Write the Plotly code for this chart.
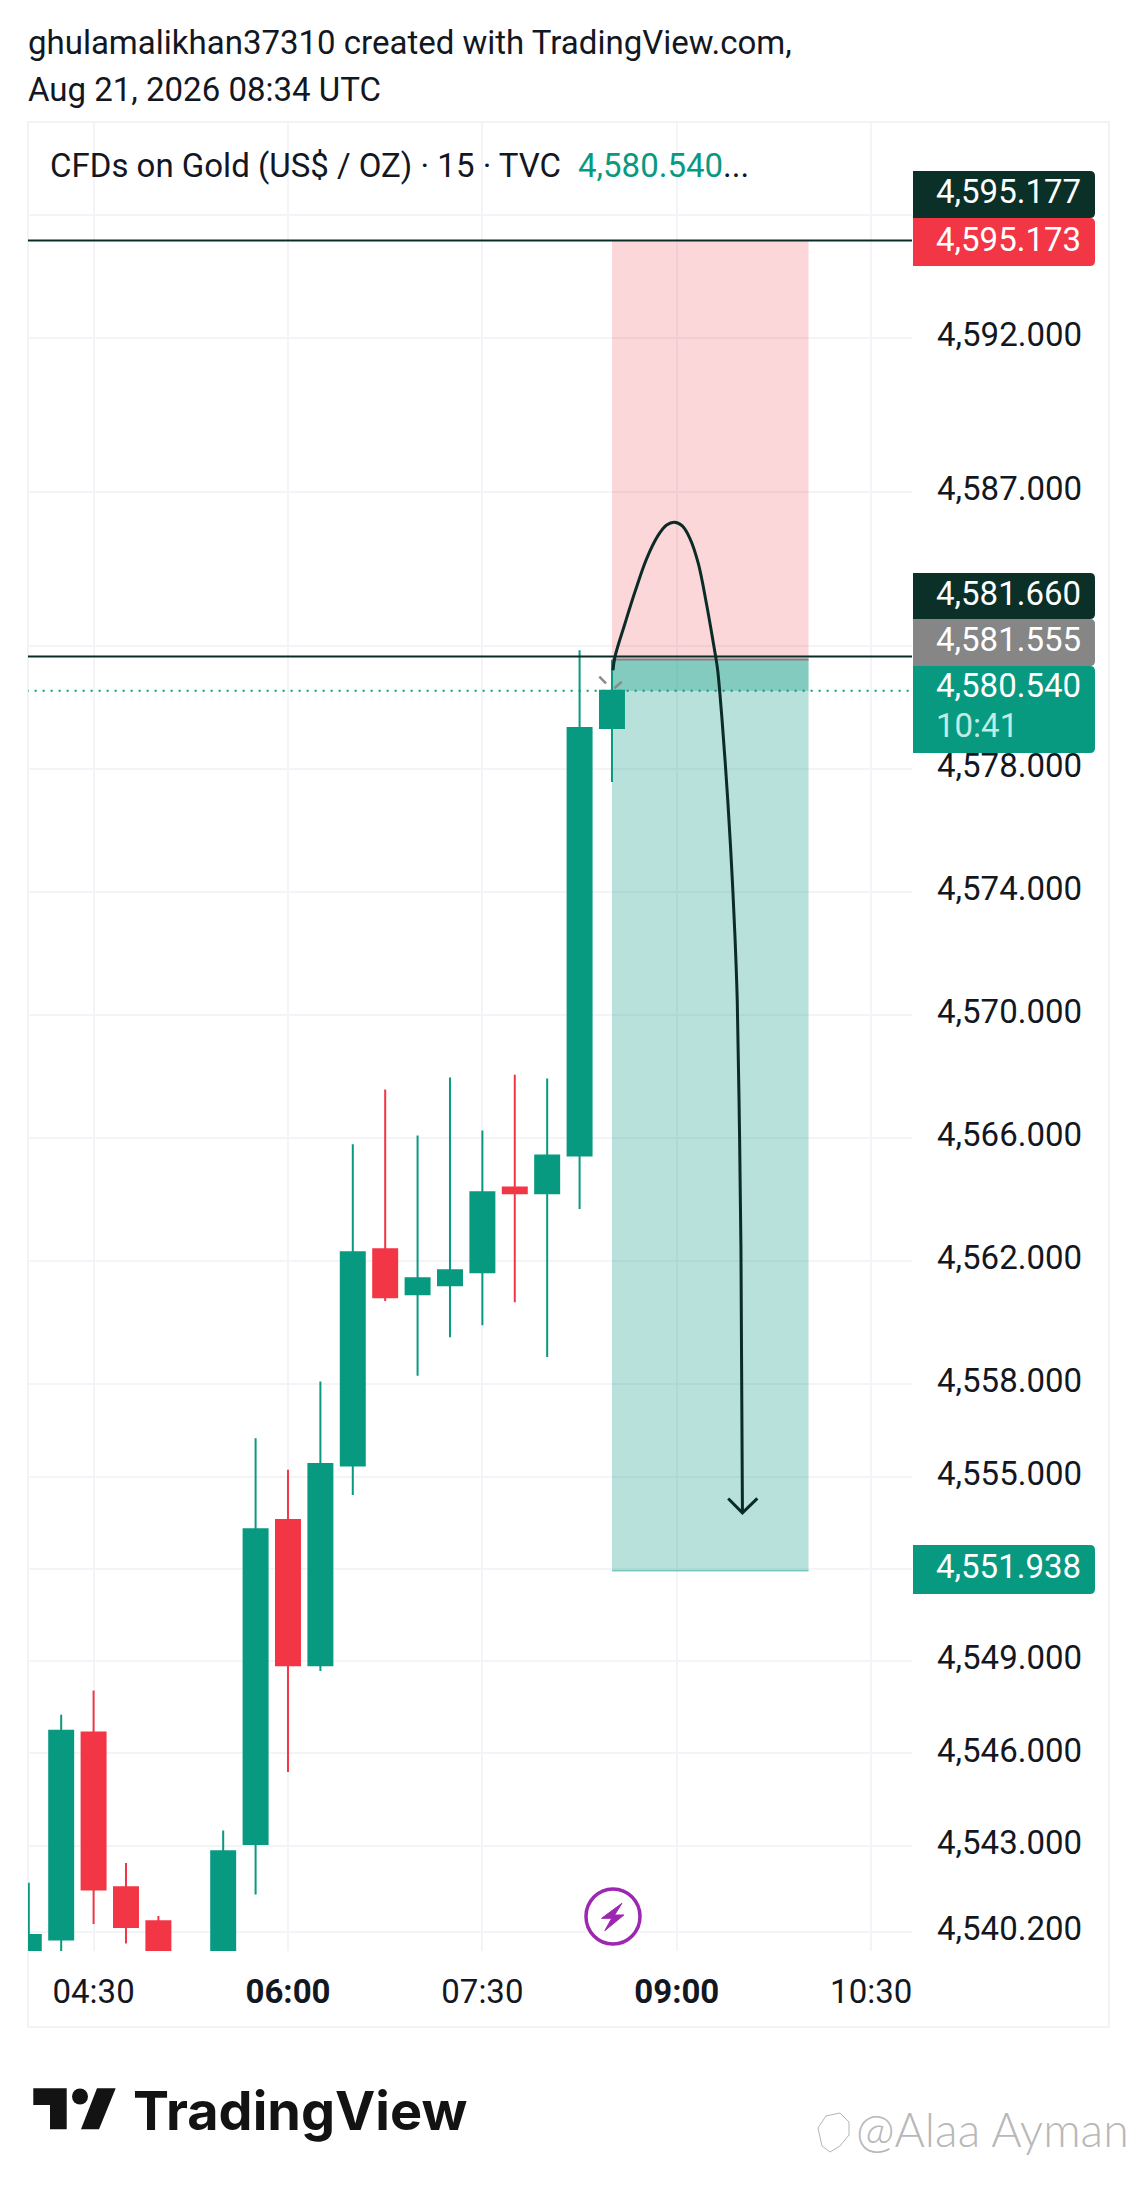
import pandas as pd
import plotly.graph_objects as go

# ---------- data ----------
# 15-minute candles on 2026-08-21 (the 05:15 candle lies fully below the visible range, so it is left out)
candle_times = ["04:00", "04:15", "04:30", "04:45", "05:00", "05:30", "05:45", "06:00", "06:15", "06:30",
                "06:45", "07:00", "07:15", "07:30", "07:45", "08:00", "08:15", "08:30"]
candle_open = [4539.0, 4539.95, 4546.68, 4541.65, 4540.55, 4539.0, 4543.06, 4553.59, 4548.87, 4555.36,
               4562.39, 4560.93, 4561.22, 4561.64, 4564.40, 4564.21, 4565.44, 4579.33]
candle_high = [4541.80, 4547.26, 4548.05, 4542.44, 4540.72, 4543.50, 4556.25, 4555.22, 4558.09, 4565.80,
               4567.58, 4566.09, 4567.97, 4566.25, 4568.06, 4567.94, 4581.86, 4581.55]
candle_low = [4539.0, 4539.0, 4540.46, 4539.82, 4539.0, 4539.0, 4541.42, 4545.40, 4548.68, 4554.40,
              4560.71, 4558.28, 4559.53, 4559.92, 4560.67, 4558.89, 4563.70, 4577.58]
candle_close = [4540.10, 4546.74, 4541.58, 4540.36, 4539.2, 4542.82, 4553.29, 4548.87, 4555.41, 4562.29,
                4560.83, 4561.45, 4561.71, 4564.24, 4564.21, 4565.44, 4579.33, 4580.54]

price_ticks = [4596, 4592, 4587, 4582, 4578, 4574, 4570, 4566, 4562, 4558, 4555, 4552, 4549, 4546, 4543, 4540.2]
price_labels = ["", "4,592.000", "4,587.000", "", "4,578.000", "4,574.000", "4,570.000", "4,566.000",
                "4,562.000", "4,558.000", "4,555.000", "", "4,549.000", "4,546.000", "4,543.000", "4,540.200"]
time_ticks = ["04:30", "06:00", "07:30", "09:00", "10:30"]
time_labels = ["04:30", "<b>06:00</b>", "07:30", "<b>09:00</b>", "10:30"]

stop_price = 4595.173
entry_price = 4581.555
target_price = 4551.938
last_price = 4580.540
line_levels = [4595.177, 4581.660]
position_start, position_end = "08:30", "10:01"

# hand-drawn curve: minutes after 06:00 and price
curve_minutes = [150.46, 151.39, 156.02, 160.65, 166.06, 171.44, 175.32, 178.85, 182.55, 186.11, 189.96,
                 193.85, 196.16, 198.01, 198.94, 200.9, 203.6, 205.4, 206.9, 208.0, 208.9, 209.7, 210.4]
curve_prices = [4581.21, 4581.65, 4582.73, 4583.76, 4584.84, 4585.60, 4585.93, 4586.02, 4585.90, 4585.49,
                4584.68, 4583.33, 4582.41, 4581.65, 4581.21, 4579.65, 4576.99, 4574.81, 4572.63, 4570.46,
                4566.85, 4562.49, 4553.82]
arrow_minutes = [203.8, 210.4, 217.3]
arrow_prices = [4554.29, 4553.82, 4554.29]

tags = [
    ("4,595.177", 171, 218, "#0B3028"),
    ("4,595.173", 218, 266, "#F23645"),
    ("4,581.660", 573, 619, "#0B3028"),
    ("4,581.555", 619, 666, "#868686"),
    ("4,580.540", 666, 753, "#089981"),
    ("4,551.938", 1545, 1594, "#089981"),
]

# ---------- page geometry ----------
W, H = 1137, 2193
L, R, T, B = 28, 912, 122, 1951
DAY = "2026-08-21 "
GREEN, RED, INK = "#089981", "#F23645", "#131722"
Y_RANGE = [4539.58, 4599.03]
LABEL_LIFT = 0.114  # price labels sit a little above their grid lines


def clock(s):
    return DAY + s + ":00"


def after_six(m):
    return pd.Timestamp(DAY + "06:00") + pd.to_timedelta(m, unit="m")


def px(x):
    return (x - L) / (R - L)


def py(y):
    return (B - y) / (B - T)


def poly(points):
    return "M" + " L".join(f"{px(a):.5f},{py(b):.5f}" for a, b in points) + " Z"


fig = go.Figure()

# position tool zones
shapes = [
    dict(type="rect", xref="x", yref="y", x0=clock(position_start), x1=clock(position_end),
         y0=entry_price, y1=stop_price, fillcolor="rgba(242,54,69,0.2)", line_width=0, layer="between"),
    dict(type="rect", xref="x", yref="y", x0=clock(position_start), x1=clock(position_end),
         y0=target_price, y1=entry_price, fillcolor="rgba(8,153,129,0.29)", line_width=0, layer="between"),
    dict(type="rect", xref="x", yref="y", x0=clock(position_start), x1=clock(position_end),
         y0=last_price, y1=entry_price, fillcolor="rgba(8,153,129,0.29)", line_width=0, layer="between"),
]

# level lines
fig.add_trace(go.Scatter(x=[clock(position_start), clock(position_end)], y=[entry_price, entry_price],
                         mode="lines", line=dict(color="#808080", width=2), hoverinfo="skip"))
fig.add_trace(go.Scatter(x=[clock(position_start), clock(position_end)], y=[target_price, target_price],
                         mode="lines", line=dict(color="rgba(8,153,129,0.45)", width=1.5), hoverinfo="skip"))
for level in line_levels:
    fig.add_trace(go.Scatter(x=[clock("03:59"), clock("10:49")], y=[level, level], mode="lines",
                             line=dict(color="#0B2B26", width=2), hoverinfo="skip"))
fig.add_trace(go.Scatter(x=[clock("03:59"), clock("10:49")], y=[last_price, last_price], mode="lines",
                         line=dict(color=GREEN, width=2, dash="2px,6px"), hoverinfo="skip"))

# candles
fig.add_trace(go.Candlestick(
    x=[clock(t) for t in candle_times], open=candle_open, high=candle_high, low=candle_low, close=candle_close,
    increasing=dict(line=dict(color=GREEN, width=2), fillcolor=GREEN),
    decreasing=dict(line=dict(color=RED, width=2), fillcolor=RED),
    whiskerwidth=0, hoverinfo="skip"))

# hand-drawn curve and arrow head
fig.add_trace(go.Scatter(x=[after_six(m) for m in curve_minutes], y=curve_prices, mode="lines",
                         line=dict(color="#0B2B26", width=3, shape="spline", smoothing=1.0), hoverinfo="skip"))
fig.add_trace(go.Scatter(x=[after_six(m) for m in arrow_minutes], y=arrow_prices, mode="lines",
                         line=dict(color="#0B2B26", width=3), hoverinfo="skip"))

# invisible trace that keeps the label-carrying price axis alive
fig.add_trace(go.Scatter(x=[clock("06:00")], y=[last_price], yaxis="y2", mode="lines",
                         line=dict(width=0), hoverinfo="skip"))

# panel frame
shapes.append(dict(type="rect", xref="paper", yref="paper", x0=px(28), x1=px(1109), y0=py(2027), y1=py(122),
                   line=dict(color="#F2F3F7", width=2), fillcolor="rgba(0,0,0,0)", layer="below"))

# small grey chevron above the last candle
for a, b in [((599.3, 676.7), (606, 683.3)), ((614.3, 688.3), (621.7, 681.7))]:
    shapes.append(dict(type="line", xref="paper", yref="paper", x0=px(a[0]), y0=py(a[1]), x1=px(b[0]), y1=py(b[1]),
                       line=dict(color="#8A8A8A", width=2.5), layer="above"))

# lightning badge
shapes.append(dict(type="circle", xref="paper", yref="paper", x0=px(586), x1=px(640), y0=py(1944), y1=py(1889),
                   fillcolor="white", line=dict(color="#9C27B0", width=3.5), layer="above"))
shapes.append(dict(type="path", xref="paper", yref="paper",
                   path=poly([(621.9, 1903.3), (601.6, 1918.3), (611.7, 1918.3), (604.8, 1930.7),
                              (623.9, 1915), (614.6, 1915)]),
                   fillcolor="#9C27B0", line=dict(color="#9C27B0", width=1), layer="above"))

# price tags on the scale
annotations = []


def label(x, y, text, size, color=INK, family="Roboto", weight=None, anchor="left"):
    font = dict(family=family, size=size, color=color)
    if weight:
        font["weight"] = weight
    annotations.append(dict(xref="paper", yref="paper", x=px(x), y=py(y), text=text, showarrow=False,
                            xanchor=anchor, yanchor="middle", align="left", borderpad=0, font=font))


for text, top, bottom, color in tags:
    r = 5
    a, b = px(913), px(1095)
    rx, ry = r / (R - L), r / (B - T)
    path = (f"M{a:.5f},{py(top):.5f} L{b - rx:.5f},{py(top):.5f} Q{b:.5f},{py(top):.5f} {b:.5f},{py(top) - ry:.5f} "
            f"L{b:.5f},{py(bottom) + ry:.5f} Q{b:.5f},{py(bottom):.5f} {b - rx:.5f},{py(bottom):.5f} "
            f"L{a:.5f},{py(bottom):.5f} Z")
    shapes.append(dict(type="path", xref="paper", yref="paper", path=path, fillcolor=color,
                       line_width=0, layer="above"))
    if text == "4,580.540":
        label(935, 685, text, 33, "white")
        label(935, 725, "10:41", 33, "#C2EBE3")
    else:
        label(935, (top + bottom) / 2 - 3, text, 33, "white")

# header, legend
label(27, 43, "ghulamalikhan37310 created with TradingView.com,", 33)
label(27, 89, "Aug 21, 2026 08:34 UTC", 33)
label(49, 165, "CFDs on Gold (US$ / OZ) · 15 · TVC", 33)
label(577, 165, '<span style="color:#089981">4,580.540</span>...', 33)

# TradingView logo
shapes.append(dict(type="path", xref="paper", yref="paper", fillcolor="#131313", line_width=0, layer="above",
                   path=poly([(33.3, 2088.3), (66.7, 2088.3), (66.7, 2129.3), (50, 2129.3), (50, 2105), (33.3, 2105)])))
shapes.append(dict(type="path", xref="paper", yref="paper", fillcolor="#131313", line_width=0, layer="above",
                   path=poly([(97, 2088.3), (115.7, 2088.3), (99, 2129.3), (81, 2129.3)])))
shapes.append(dict(type="circle", xref="paper", yref="paper", fillcolor="#131313", line_width=0, layer="above",
                   x0=px(72), x1=px(88), y0=py(2104.5), y1=py(2088.5)))
label(132, 2110, "TradingView", 54, "#131313", family="Inter", weight=700)

# watermark
shapes.append(dict(type="path", xref="paper", yref="paper", fillcolor="rgba(0,0,0,0)", layer="above",
                   line=dict(color="#B5B5B5", width=1),
                   path=poly([(822, 2146), (818, 2128), (826, 2116), (840, 2113), (849, 2122), (849, 2135),
                              (840, 2146), (830, 2152)])))
label(855, 2129, "@Alaa Ayman", 46.5, "#B8B8B8", family="Lato", weight=300)

fig.update_layout(
    width=W, height=H, autosize=False, showlegend=False,
    margin=dict(l=L, r=W - R, t=T, b=H - B, pad=0),
    paper_bgcolor="white", plot_bgcolor="white",
    boxgap=0.26, boxgroupgap=0,
    shapes=shapes, annotations=annotations,
    font=dict(family="Roboto", color=INK),
    xaxis=dict(
        type="date", rangeslider=dict(visible=False),
        range=[DAY + "03:59:38", DAY + "10:48:54"],
        tickmode="array", tickvals=[clock(t) for t in time_ticks], ticktext=time_labels,
        showgrid=True, gridcolor="#F3F4F7", gridwidth=2, zeroline=False, showline=False,
        ticks="", ticklabelstandoff=18, tickfont=dict(family="Roboto", size=33, color=INK), tickangle=0,
    ),
    yaxis=dict(
        side="right", range=Y_RANGE,
        tickmode="array", tickvals=price_ticks, showticklabels=False,
        showgrid=True, gridcolor="#F3F4F7", gridwidth=2, zeroline=False, showline=False, ticks="",
    ),
    yaxis2=dict(
        overlaying="y", anchor="x", side="right", range=[Y_RANGE[0] - LABEL_LIFT, Y_RANGE[1] - LABEL_LIFT],
        tickmode="array", tickvals=price_ticks, ticktext=price_labels,
        showgrid=False, zeroline=False, showline=False,
        ticks="", ticklabelstandoff=24, tickfont=dict(family="Roboto", size=33, color=INK),
    ),
)

fig.write_html("out.html", post_script="document.body.style.margin='0';", config=dict(displayModeBar=False))
